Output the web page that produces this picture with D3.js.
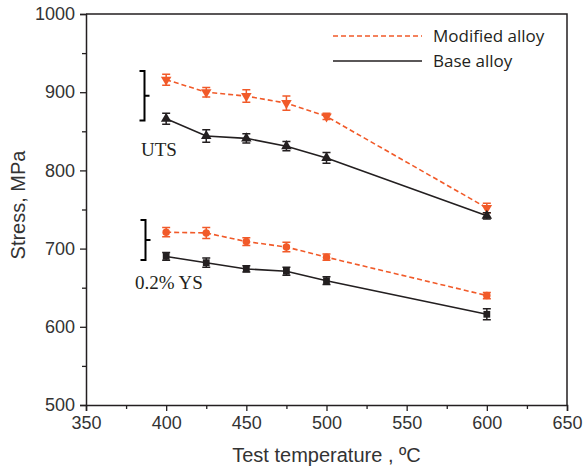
<!DOCTYPE html>
<html>
<head>
<meta charset="utf-8">
<script src="https://cdn.jsdelivr.net/npm/d3@7"></script>
<style>
  html, body { margin: 0; padding: 0; background: #fff; }
  svg { display: block; }
</style>
</head>
<body>
<svg id="chart" width="588" height="469"></svg>
<script>
const temperatures = [400, 425, 450, 475, 500, 600];
const modifiedUTS = [916, 900, 895, 886, 869, 752];
const modifiedUTSErr = [7, 6, 8, 9, 4, 6];
const baseUTS = [866, 844, 841, 831, 816, 742];
const baseUTSErr = [7, 8, 6, 6, 7, 4];
const modifiedYS = [721, 720, 709, 702, 689, 640];
const modifiedYSErr = [6, 7, 5, 6, 4, 4];
const baseYS = [690, 682, 674, 671, 659, 616];
const baseYSErr = [5, 6, 4, 5, 5, 7];
const xTicks = [350, 400, 450, 500, 550, 600, 650];
const yTicks = [500, 600, 700, 800, 900, 1000];
const legendLabels = ["Modified alloy", "Base alloy"];

const orange = "#f15a29";
const black = "#231f20";
const svg = d3.select("#chart");
const L = 86, R = 567, T = 14, B = 405;
const x = d3.scaleLinear().domain([350, 650]).range([L, R]);
const y = d3.scaleLinear().domain([500, 1000]).range([B, T]);

// frame (top and right)
svg.append("path").attr("d", `M${L},${T}H${R}V${B}`).attr("fill", "none")
  .attr("stroke", black).attr("stroke-width", 1.5);

// x axis
svg.append("g").attr("transform", `translate(0,${B})`)
  .call(d3.axisBottom(x).tickValues(xTicks).tickSize(6).tickPadding(5).tickFormat(d3.format("d")));
svg.append("g").attr("transform", `translate(0,${B})`)
  .call(d3.axisBottom(x).tickValues(d3.range(375, 650, 50)).tickSize(4).tickFormat(""))
  .select(".domain").remove();
// y axis
svg.append("g").attr("transform", `translate(${L},0)`)
  .call(d3.axisLeft(y).tickValues(yTicks).tickSize(6).tickPadding(5).tickFormat(d3.format("d")));
svg.append("g").attr("transform", `translate(${L},0)`)
  .call(d3.axisLeft(y).tickValues(d3.range(550, 1000, 100)).tickSize(4).tickFormat(""))
  .select(".domain").remove();

svg.selectAll(".domain").attr("stroke", black).attr("stroke-width", 1.5);
svg.selectAll(".tick line").attr("stroke", black).attr("stroke-width", 1.3);
svg.selectAll(".tick text").attr("fill", "#333").style("font-family", "Liberation Sans, Arial, sans-serif").style("font-size", "18px");

// axis titles
svg.append("text").attr("x", (L + R) / 2).attr("y", 462).attr("text-anchor", "middle")
  .style("font-family", "Liberation Sans, Arial, sans-serif").style("font-size", "20px").attr("fill", "#333")
  .text("Test temperature , ºC");
svg.append("text").attr("transform", "translate(25,205) rotate(-90)").attr("text-anchor", "middle")
  .style("font-family", "Liberation Sans, Arial, sans-serif").style("font-size", "20px").attr("fill", "#333")
  .text("Stress, MPa");

// series
const series = [
  { vals: modifiedUTS, err: modifiedUTSErr, color: orange, dash: "5,3", sym: "down" },
  { vals: baseUTS, err: baseUTSErr, color: black, dash: null, sym: "up" },
  { vals: modifiedYS, err: modifiedYSErr, color: orange, dash: "5,3", sym: "circle" },
  { vals: baseYS, err: baseYSErr, color: black, dash: null, sym: "square" }
];
const line = d3.line().x((d, i) => x(temperatures[i])).y(d => y(d));
series.forEach(s => {
  svg.append("path").datum(s.vals).attr("d", line).attr("fill", "none")
    .attr("stroke", s.color).attr("stroke-width", 1.6).attr("stroke-dasharray", s.dash);
  const g = svg.append("g");
  s.vals.forEach((v, i) => {
    const cx = x(temperatures[i]);
    const y1 = y(v + s.err[i]), y2 = y(v - s.err[i]);
    g.append("path").attr("d", `M${cx},${y1}V${y2}M${cx - 4},${y1}H${cx + 4}M${cx - 4},${y2}H${cx + 4}`)
      .attr("stroke", s.color).attr("stroke-width", 1.5).attr("fill", "none");
    let sym;
    if (s.sym === "square") sym = d3.symbol(d3.symbolSquare, 46)();
    else if (s.sym === "circle") sym = d3.symbol(d3.symbolCircle, 44)();
    else sym = d3.symbol(d3.symbolTriangle, 48)();
    const rot = s.sym === "down" ? " rotate(180)" : "";
    g.append("path").attr("d", sym).attr("transform", `translate(${cx},${y(v)})${rot}`)
      .attr("fill", s.color);
  });
});

// brackets
function bracket(xv, top, bot) {
  const mid = (top + bot) / 2;
  svg.append("path").attr("d", `M${xv - 5},${top}H${xv}V${bot}H${xv - 5}M${xv},${mid}H${xv + 5}`)
    .attr("fill", "none").attr("stroke", "#000").attr("stroke-width", 2);
}
bracket(144.5, 71, 120.5);
bracket(145.5, 220, 260);

svg.append("text").attr("x", 141).attr("y", 156).style("font-family", "Liberation Serif, Times New Roman, serif")
  .style("font-size", "19px").attr("fill", "#231f20").text("UTS");
svg.append("text").attr("x", 135).attr("y", 289).style("font-family", "Liberation Serif, Times New Roman, serif")
  .style("font-size", "19px").attr("fill", "#231f20").text("0.2% YS");

// legend
const legY = [36, 61];
const legStyles = [{ color: orange, dash: "5,3" }, { color: black, dash: null }];
legendLabels.forEach((lab, i) => {
  svg.append("line").attr("x1", 333).attr("x2", 422).attr("y1", legY[i]).attr("y2", legY[i])
    .attr("stroke", legStyles[i].color).attr("stroke-width", 1.5).attr("stroke-dasharray", legStyles[i].dash);
  svg.append("text").attr("x", 433).attr("y", legY[i] + 6)
    .style("font-family", "Open Sans, sans-serif").style("font-size", "17px").attr("fill", "#231f20").text(lab);
});
</script>
</body>
</html>
